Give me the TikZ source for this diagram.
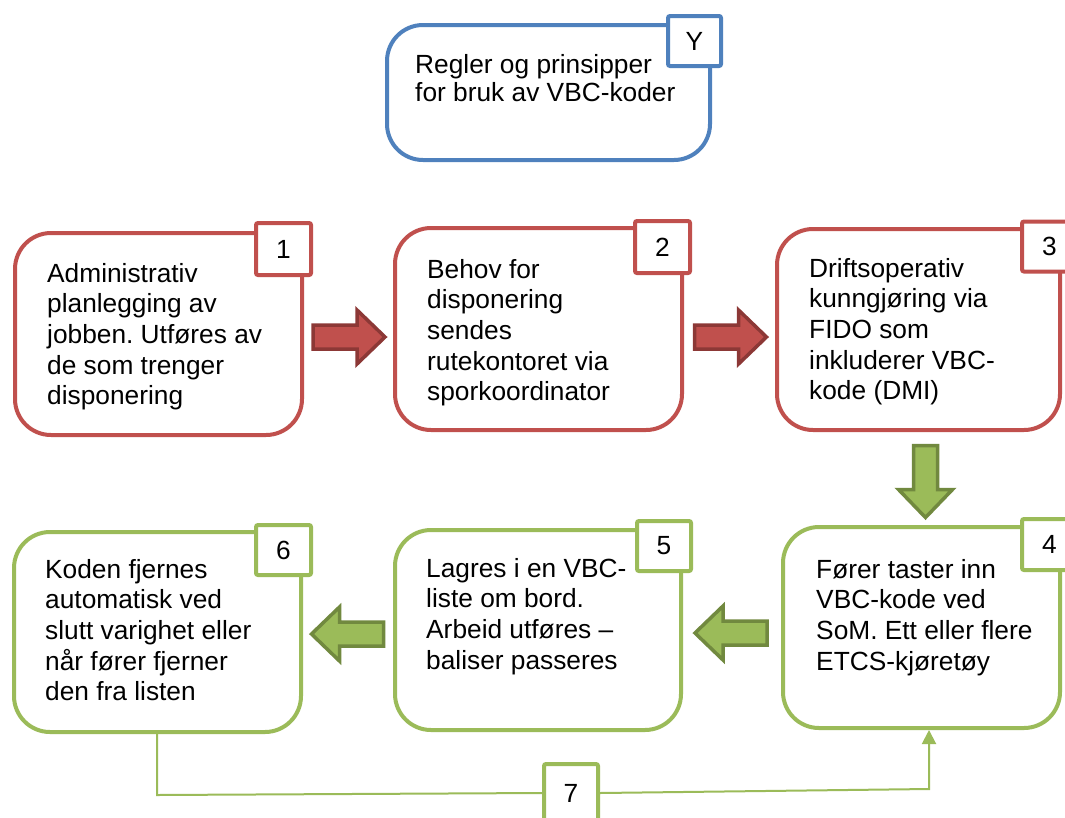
\documentclass[tikz,border=0pt]{standalone}
\usepackage{fontspec}
\setmainfont{Liberation Sans}
\usetikzlibrary{arrows.meta}
\definecolor{cred}{HTML}{C0504D}
\definecolor{credd}{HTML}{8C3836}
\definecolor{cgreen}{HTML}{9BBB59}
\definecolor{cgreend}{HTML}{71893F}
\definecolor{cblue}{HTML}{4F81BD}
\frenchspacing
\begin{document}
\begin{tikzpicture}[x=1pt,y=-1pt,
  box/.style={draw, line width=4pt, rounded corners=36pt, fill=white, inner sep=0pt},
  tag/.style={draw, line width=4pt, rounded corners=2pt, fill=white, inner sep=0pt, font=\fontsize{26.3}{30}\selectfont},
  txt/.style={anchor=base west, inner sep=0pt, font=\fontsize{26.3}{30.7}\selectfont},
  redarrow/.style={fill=cred, draw=credd, line width=3.5pt},
  greenarrow/.style={fill=cgreen, draw=cgreend, line width=3.5pt},
  barrow/.pic={\path[pic actions] (-36,-12) -- (8,-12) -- (8,-27) -- (36,0) -- (8,27) -- (8,12) -- (-36,12) -- cycle;},
  link/.style={draw=cgreen, line width=2pt}
]
\useasboundingbox (0,0) rectangle (1065,817);

% main boxes
\node[box, draw=cblue, minimum width=323pt, minimum height=135pt] (bY) at (548.5,92.5) {};
\node[box, draw=cred, minimum width=287pt, minimum height=202pt] (b1) at (158.5,334) {};
\node[box, draw=cred, minimum width=287pt, minimum height=202pt] (b2) at (538.5,329) {};
\node[box, draw=cred, minimum width=283pt, minimum height=201pt] (b3) at (918.5,329.5) {};
\node[box, draw=cgreen, minimum width=277pt, minimum height=201pt] (b4) at (921.5,627.5) {};
\node[box, draw=cgreen, minimum width=286pt, minimum height=200pt] (b5) at (538,630) {};
\node[box, draw=cgreen, minimum width=287pt, minimum height=200pt] (b6) at (157.5,632) {};

% number tags
\node[tag, draw=cblue, minimum width=53pt, minimum height=50pt] (lY) at (694.5,41) {Y};
\node[tag, draw=cred, minimum width=55pt, minimum height=52pt] (l1) at (283.5,249) {1};
\node[tag, draw=cred, minimum width=55pt, minimum height=52pt] (l2) at (662.5,247) {2};
\node[tag, draw=cred, minimum width=55pt, minimum height=50pt] (l3) at (1049.5,246.5) {3};
\node[tag, draw=cgreen, minimum width=55pt, minimum height=51pt] (l4) at (1049.5,544.5) {4};
\node[tag, draw=cgreen, minimum width=54pt, minimum height=50pt] (l5) at (664,546) {5};
\node[tag, draw=cgreen, minimum width=55pt, minimum height=50pt] (l6) at (283.5,550) {6};
\node[tag, draw=cgreen, minimum width=54pt, minimum height=58pt] (l7) at (571,793) {7};

% texts
\node[txt, font=\fontsize{26.3}{28.5}\selectfont] (tY) at (415,73) {\begin{tabular}[t]{@{}l@{}}Regler og prinsipper\\for bruk av VBC-koder\end{tabular}};
\node[txt] (t1) at (47,282) {\begin{tabular}[t]{@{}l@{}}Administrativ\\planlegging av\\jobben. Utføres av\\de som trenger\\disponering\end{tabular}};
\node[txt] (t2) at (427,278) {\begin{tabular}[t]{@{}l@{}}Behov for\\disponering\\sendes\\rutekontoret via\\sporkoordinator\end{tabular}};
\node[txt] (t3) at (809,277) {\begin{tabular}[t]{@{}l@{}}Driftsoperativ\\kunngjøring via\\FIDO som\\inkluderer VBC-\\kode (DMI)\end{tabular}};
\node[txt] (t4) at (816,578) {\begin{tabular}[t]{@{}l@{}}Fører taster inn\\VBC-kode ved\\SoM. Ett eller flere\\ETCS-kjøretøy\end{tabular}};
\node[txt] (t5) at (426,577) {\begin{tabular}[t]{@{}l@{}}Lagres i en VBC-\\liste om bord.\\Arbeid utføres –\\baliser passeres\end{tabular}};
\node[txt] (t6) at (45,578) {\begin{tabular}[t]{@{}l@{}}Koden fjernes\\automatisk ved\\slutt varighet eller\\når fører fjerner\\den fra listen\end{tabular}};

% block arrows
\pic[redarrow] at (349,337) {barrow};
\pic[redarrow] at (730.5,337) {barrow};
\pic[greenarrow, rotate=-90] at (925.5,481.5) {barrow};
\pic[greenarrow, rotate=180] at (731,633) {barrow};
\pic[greenarrow, rotate=180] at (347.5,634) {barrow};

% connector 7
\coordinate (c1) at (157,795);
\coordinate (c2) at (929,789);
\draw[link] (b6.south -| c1) -- (c1) -- (l7.west);
\draw[link, -{Triangle[width=14pt,length=14pt]}] (l7.east) -- (c2) -- (b4.south -| c2);
\end{tikzpicture}
\end{document}
